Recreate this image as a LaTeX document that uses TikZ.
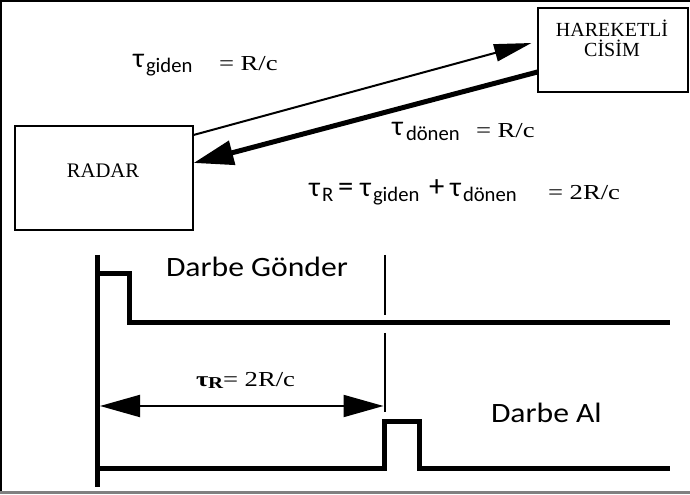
\documentclass[tikz,border=0pt]{standalone}
\usepackage{fontspec}
\setmainfont{Liberation Serif}
\newfontfamily\taufont{Carlito}
\newfontfamily\subfont{Carlito}
\newfontfamily\eqfont[FakeStretch=1.25]{Liberation Serif}
\newfontfamily\darbefont[FakeStretch=1.13]{Carlito}
\newfontfamily\boxfont{Liberation Serif}
\usetikzlibrary{arrows.meta,calc}
\tikzset{
  lbl/.style={inner sep=0pt, outer sep=0pt, anchor=base west},
  taus/.style={lbl, font=\taufont\fontsize{21}{25}\selectfont},
  ops/.style={lbl, font=\taufont\fontsize{23}{27}\selectfont},
  subs/.style={lbl, font=\subfont\fontsize{15.5}{18}\selectfont},
  eqs/.style={lbl, font=\eqfont\fontsize{16}{19}\selectfont},
  darbes/.style={lbl, font=\darbefont\fontsize{21}{25}\selectfont},
  boxtext/.style={inner sep=0pt, anchor=base, font=\boxfont\fontsize{15}{18}\selectfont},
  boxframe/.style={draw, line width=0.8pt, inner sep=0pt},
  thinarrow/.style={line width=1.5pt, -{Triangle[length=28pt,width=13pt]}},
  thickarrow/.style={line width=3.75pt, -{Triangle[length=30pt,width=18pt]}},
  signal/.style={line width=3.75pt, line join=miter},
  marker/.style={line width=2.2pt},
  span/.style={line width=1.5pt, {Triangle[length=30pt,width=16.5pt]}-{Triangle[length=30pt,width=16.5pt]}}
}
\begin{document}
\begin{tikzpicture}[x=0.75pt,y=-0.75pt]
\useasboundingbox (0,0) rectangle (690,495);
\fill[white] (0,0) rectangle (690,495);
% frame
\draw[line width=1.3pt] (1,492) -- (1,1) -- (690,1);
\draw[line width=2.2pt, gray] (0,492.5) -- (690,492.5);

% boxes
\node[boxframe, minimum width=133.5pt, minimum height=78pt] (radar) at (104,178) {};
\node[boxtext, font=\boxfont\fontsize{15.5}{18}\selectfont] (radarlbl) at (103,178) {RADAR};
\node[boxframe, minimum width=112.5pt, minimum height=63pt] (target) at (613,50) {};
\node[boxtext] (targetlbl1) at (612,37) {HAREKETLİ};
\node[boxtext] (targetlbl2) at (612,57) {CİSİM};

% connectors
\draw[thinarrow] ($(radar.east)+(0,-43)$) -- ($(target.west)+(-6,-7)$);
\draw[thickarrow] ($(target.west)+(0,22)$) -- ($(radar.east)+(0,-15)$);

% line 1
\node[taus] (tau1) at (133,68) {τ};
\node[subs] (sub1) at (146,73) {giden};
\node[eqs] (eq1) at (219,71) {= R/c};

% line 2
\node[taus] (tau2) at (392,136) {τ};
\node[subs] (sub2) at (406,141) {dönen};
\node[eqs] (eq2) at (476,138) {= R/c};

% line 3
\node[taus] (tau3) at (309,197) {τ};
\node[subs] (sub3) at (322,202) {R};
\node[ops] (eqs3) at (338,197) {=};
\node[taus] (tau4) at (360,197) {τ};
\node[subs] (sub4) at (373,202) {giden};
\node[ops] (plus3) at (429,197) {+};
\node[taus] (tau5) at (450,197) {τ};
\node[subs] (sub5) at (463,202) {dönen};
\node[eqs] (eq3) at (548,200) {= 2R/c};

% timing diagram
\coordinate (axT) at (97,255);
\coordinate (axB) at (97,487);
\draw[signal] (axT) -- (axB);
\draw[signal] (97,274) -- (129,274) -- (129,323) -- (670,323);
\draw[signal] (97,469) -- (384,469) -- (384,422) -- (419,422) -- (419,469) -- (670,469);
\coordinate (mk1) at (385,255);
\coordinate (mk2) at (385,315);
\coordinate (mk3) at (385,333);
\coordinate (mk4) at (385,412);
\draw[marker] (mk1) -- (mk2);
\draw[marker] (mk3) -- (mk4);
\coordinate (spanL) at (100,406);
\coordinate (spanR) at (383.5,406);
\draw[span] (spanL) -- (spanR);

\node[eqs, font=\eqfont\bfseries\fontsize{16}{19}\selectfont] (tauR) at (196,387) {τ};
\node[eqs, font=\eqfont\bfseries\fontsize{12.5}{14}\selectfont] (tauRsub) at (208,389) {R};
\node[eqs] (eqR) at (223,387) {= 2R/c};

\node[darbes] (send) at (166,277) {Darbe Gönder};
\node[darbes] (recv) at (491,423) {Darbe Al};
\end{tikzpicture}
\end{document}
